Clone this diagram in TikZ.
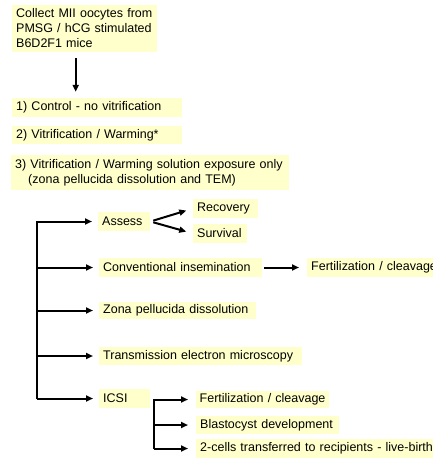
\documentclass[tikz,border=0pt]{standalone}
\usepackage{fontspec}
\setmainfont{Liberation Sans}
\usetikzlibrary{arrows.meta}
\definecolor{noteyellow}{RGB}{255,255,204}

\begin{document}
\begin{tikzpicture}[x=1pt,y=-1pt]
\useasboundingbox (0,0) rectangle (433,459);

% definitions
\tikzstyle{stage} = [rectangle, anchor=west, fill=noteyellow, inner xsep=4pt, inner ysep=0pt, minimum height=19pt, align=left, font=\fontsize{12.5}{15}\selectfont]

\tikzstyle{arrow} = [-{Triangle[length=7pt,width=6pt]}, line width=2pt]

% the graph
\node (collect) [stage, text width=137pt, minimum height=47pt] at (12,28.5) {Collect MII oocytes from\\PMSG / hCG stimulated\\B6D2F1 mice};

\node (control) [stage, text width=162pt] at (12,107.5) {1) Control - no vitrification};

\node (vitri) [stage, text width=162pt, minimum height=18pt] at (12,135) {2) Vitrification / Warming*};

\node (expo) [stage, text width=270pt, minimum height=35pt] at (11,172.5) {3) Vitrification / Warming solution exposure only\\\hspace*{13pt}(zona pellucida dissolution and TEM)};

\node (assess) [stage, text width=44pt] at (98,221.5) {Assess};

\node (recov) [stage, text width=57pt] at (193,208.5) {Recovery};

\node (surv) [stage, text width=46pt] at (193,233.5) {Survival};

\node (conv) [stage, text width=155pt] at (99,267.5) {Conventional insemination};

\node (fert) [stage, text width=150pt] at (307,267.5) {Fertilization / cleavage};

\node (zona) [stage, text width=149pt, minimum height=17pt] at (99,310.5) {Zona pellucida dissolution};

\node (tem) [stage, text width=195pt, minimum height=18pt] at (99,356) {Transmission electron microscopy};

\node (icsi) [stage, text width=43pt] at (99,398.5) {ICSI};

\node (icsifert) [stage, text width=126pt, inner xsep=3.5pt, minimum height=17pt] at (196,399.5) {Fertilization / cleavage};

\node (blast) [stage, text width=135pt, minimum height=18pt] at (196,425) {Blastocyst development};

\node (transfer) [stage, text width=240pt] at (196,448.5) {2-cells transferred to recipients - live-birth};

\coordinate (spine) at (37,0);
\coordinate (fork) at ([xshift=4pt]icsi.east);

\draw [arrow, shorten <=6pt, shorten >=6pt] ([xshift=-9pt]collect.south) -- ([xshift=-9pt]collect.south |- control.north);

\draw [arrow, shorten >=6pt] (spine |- icsi.west) -- (spine |- assess.west) -- (assess.west);
\foreach \n in {conv, zona, tem, icsi}
  \draw [arrow, shorten >=6pt] (spine |- \n.west) -- (\n.west);

\draw [arrow, shorten <=3pt, shorten >=7pt] (assess.east) -- (recov.west);
\draw [arrow, shorten <=3pt, shorten >=7pt] (assess.east) -- (surv.west);

\draw [arrow, shorten <=2pt, shorten >=8pt] (conv.east) -- (fert.west);

\draw [arrow, shorten >=8pt] (fork |- transfer.west) -- (fork |- icsifert.west) -- (icsifert.west);
\foreach \n in {blast, transfer}
  \draw [arrow, shorten >=8pt] (fork |- \n.west) -- (\n.west);

\end{tikzpicture}
\end{document}
